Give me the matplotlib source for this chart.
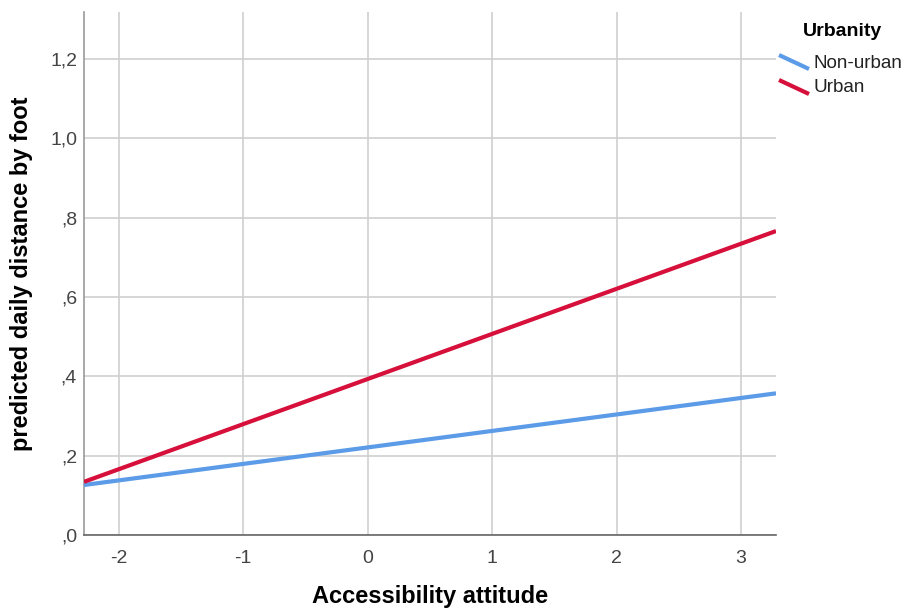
import matplotlib
matplotlib.use("Agg")
import matplotlib.pyplot as plt
from matplotlib.lines import Line2D

plt.rcParams['font.family'] = ['Liberation Sans', 'DejaVu Sans']

# Predicted values at the ends of the observed attitude range
x_range = [-2.28, 3.28]
non_urban = [0.126, 0.357]
urban = [0.134, 0.766]

series_names = ["Non-urban", "Urban"]
series_colors = ["#5b9be8", "#d6103b"]

x_ticks = [-2, -1, 0, 1, 2, 3]
y_ticks = [0.0, 0.2, 0.4, 0.6, 0.8, 1.0, 1.2]
y_tick_labels = [",0", ",2", ",4", ",6", ",8", "1,0", "1,2"]

W, H = 905, 609
fig = plt.figure(figsize=(W / 100, H / 100), dpi=100)
left, right, top, bottom = 84, 776, 12, 535
ax = fig.add_axes([left / W, (H - bottom) / H, (right - left) / W, (bottom - top) / H])

for vals, color in zip([non_urban, urban], series_colors):
    ax.plot(x_range, vals, color=color, lw=3, solid_capstyle='butt', zorder=3)

ax.set_xlim(x_range[0], x_range[1])
ax.set_ylim(0, 1.318)
ax.set_xticks(x_ticks)
ax.set_xticklabels([str(t) for t in x_ticks])
ax.set_yticks(y_ticks)
ax.set_yticklabels(y_tick_labels)
ax.tick_params(length=0, labelsize=14, labelcolor="#444444")
ax.tick_params(axis="x", pad=11)
ax.tick_params(axis="y", pad=5)
ax.grid(True, color="#cfcfcf", lw=1.2)
ax.set_axisbelow(True)
for s in ["top", "right"]:
    ax.spines[s].set_visible(False)
ax.spines["left"].set_color("#999999")
ax.spines["bottom"].set_color("#666666")
ax.spines["left"].set_linewidth(1.2)
ax.spines["bottom"].set_linewidth(1.2)

fig.text(430 / W, 1 - 597 / H, "Accessibility attitude", ha="center", va="center",
         fontsize=17, fontweight="bold")
fig.text(22 / W, 1 - 274 / H, "predicted daily distance by foot", ha="center", va="center",
         rotation=90, fontsize=17, fontweight="bold")

# Legend with slanted line keys
fig.text(803 / W, 1 - 32 / H, "Urbanity", ha="left", va="center", fontsize=14,
         fontweight="bold")
key_rows = [63, 88]
for name, color, yc in zip(series_names, series_colors, key_rows):
    fig.add_artist(Line2D([779 / W, 809 / W], [1 - (yc - 8) / H, 1 - (yc + 6) / H],
                          transform=fig.transFigure, color=color, lw=3,
                          solid_capstyle='butt'))
    fig.text(813 / W, 1 - yc / H, name, ha="left", va="center", fontsize=13.6,
             color="#222222")

fig.savefig("out.png", dpi=100)
